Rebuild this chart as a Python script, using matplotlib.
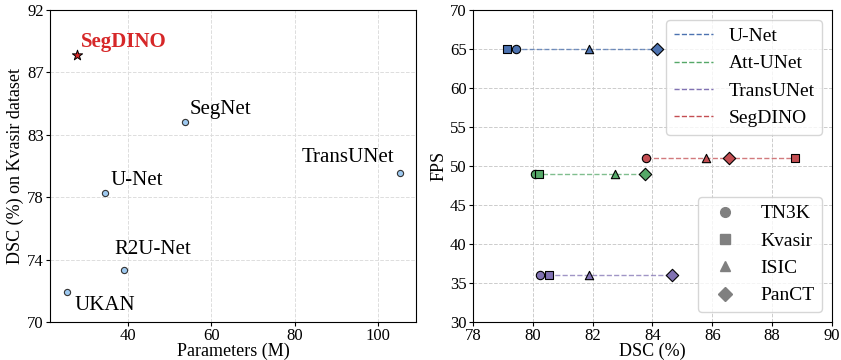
import numpy as np
import matplotlib
matplotlib.use('Agg')
import matplotlib.pyplot as plt
from matplotlib.lines import Line2D

plt.rcParams['font.family'] = ['Liberation Serif', 'DejaVu Serif']

# left panel: params vs DSC on Kvasir
models = ['UKAN', 'R2U-Net', 'U-Net', 'SegNet', 'TransUNet']
params = [25.4, 39.1, 34.6, 53.6, 105.3]
dsc_kvasir = [72.1, 73.7, 79.1, 84.1, 80.5]
segdino_params = 27.8
segdino_dsc = 88.8

# right panel: DSC per dataset vs FPS
datasets = ['TN3K', 'Kvasir', 'ISIC', 'PanCT']
markers = ['o', 's', '^', 'D']
methods = ['U-Net', 'Att-UNet', 'TransUNet', 'SegDINO']
fps = [65, 49, 36, 51]
dsc = {
    'U-Net':     [79.45, 79.15, 81.87, 84.15],
    'Att-UNet':  [80.08, 80.20, 82.75, 83.74],
    'TransUNet': [80.25, 80.54, 81.87, 84.65],
    'SegDINO':   [83.78, 88.77, 85.80, 86.57],
}
colors = ['#4C72B0', '#55A868', '#8172B3', '#C44E52']

fig = plt.figure(figsize=(8.41, 3.6), dpi=100)
ax1 = fig.add_axes([0.0595, 0.1056, 0.4351, 0.8667])
ax2 = fig.add_axes([0.5624, 0.1056, 0.4269, 0.8667])

# ---- left ----
ax1.scatter(params, dsc_kvasir, s=20, color='#9ec9f0', edgecolor='#333333', linewidth=0.8, zorder=3)
ax1.scatter([segdino_params], [segdino_dsc], marker='*', s=60, color='#d62728',
            edgecolor='black', linewidth=0.7, zorder=3)
offsets = {
    'UKAN': (5, -12.5),
    'R2U-Net': (-7, 11),
    'U-Net': (3.6, 6),
    'SegNet': (3.6, 6),
    'TransUNet': (-71, 8),
}
for name, x, y in zip(models, params, dsc_kvasir):
    ax1.annotate(name, (x, y), xytext=offsets[name], textcoords='offset points',
                 fontsize=15)
ax1.annotate('SegDINO', (segdino_params, segdino_dsc), xytext=(3, 6),
             textcoords='offset points', fontsize=15, fontweight='bold', color='#d62728')
ax1.set_xlim(21.3, 109.1)
ax1.set_ylim(70, 92)
yt = np.linspace(70, 92, 6)
ax1.set_yticks(yt)
ax1.set_yticklabels([str(int(v)) for v in yt])
ax1.set_xticks([40, 60, 80, 100])
ax1.tick_params(labelsize=12, pad=1.5, length=3)
ax1.set_xlabel('Parameters (M)', fontsize=13, labelpad=-1)
ax1.set_ylabel('DSC (%) on Kvasir dataset', fontsize=13, labelpad=2)
ax1.grid(True, linestyle='--', color='#dddddd', linewidth=0.7)
ax1.set_axisbelow(True)

# ---- right ----
for m, c, f in zip(methods, colors, fps):
    vals = dsc[m]
    ax2.plot([min(vals), max(vals)], [f, f], linestyle='--', color=c, linewidth=1.0,
             alpha=0.75, zorder=2)
    for v, mk in zip(vals, markers):
        ax2.scatter(v, f, marker=mk, s=40 if mk == 'D' else 36, color=c,
                    edgecolor='black', linewidth=0.8, zorder=3)
ax2.set_xlim(78, 90)
ax2.set_ylim(30, 70)
ax2.set_xticks(np.arange(78, 91, 2))
ax2.set_yticks(np.arange(30, 71, 5))
ax2.tick_params(labelsize=12, pad=1.5, length=3)
ax2.set_xlabel('DSC (%)', fontsize=13, labelpad=-1)
ax2.set_ylabel('FPS', fontsize=13, labelpad=2)
ax2.grid(True, linestyle='--', color='#cccccc', linewidth=0.7)
ax2.set_axisbelow(True)

method_handles = [Line2D([0], [0], color=c, linestyle='--', linewidth=1.0) for c in colors]
leg1 = ax2.legend(method_handles, methods, loc='upper right', fontsize=14,
                  handlelength=2.0, handletextpad=0.8, labelspacing=0.5, borderpad=0.4)
ax2.add_artist(leg1)
dataset_handles = [Line2D([0], [0], marker=mk, color='gray', linestyle='None', markersize=7)
                   for mk in markers]
ax2.legend(dataset_handles, datasets, loc='lower right', fontsize=14,
           handlelength=2.0, handletextpad=0.8, labelspacing=0.5, borderpad=0.4)

fig.savefig('out.png')
